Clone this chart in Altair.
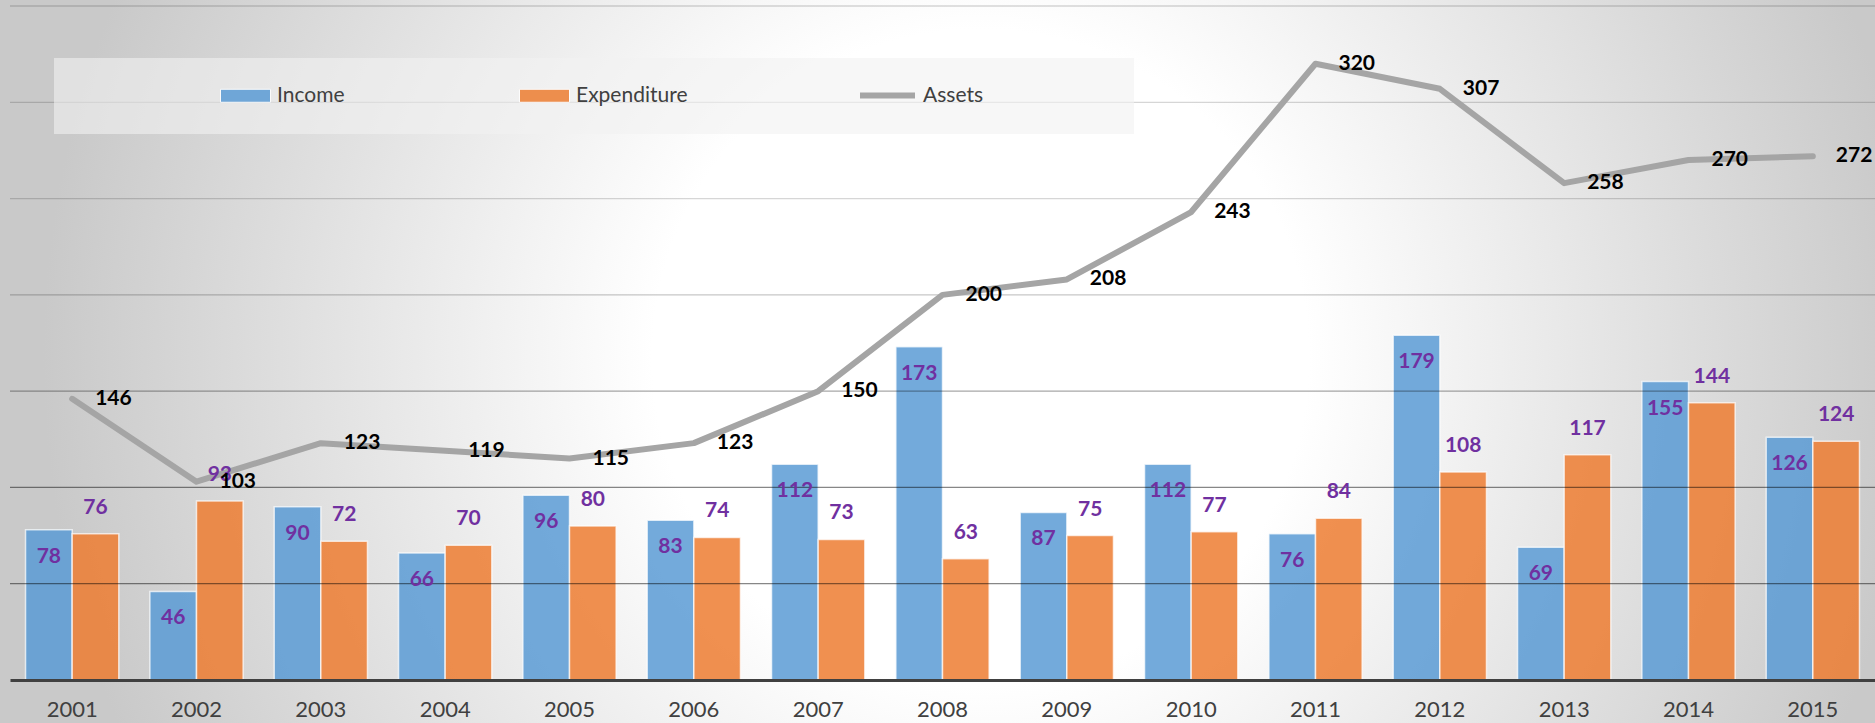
import altair as alt
import pandas as pd

# ---- data ----
years = ["2001", "2002", "2003", "2004", "2005", "2006", "2007", "2008",
         "2009", "2010", "2011", "2012", "2013", "2014", "2015"]
income = [78, 46, 90, 66, 96, 83, 112, 173, 87, 112, 76, 179, 69, 155, 126]
expenditure = [76, 93, 72, 70, 80, 74, 73, 63, 75, 77, 84, 108, 117, 144, 124]
assets = [146, 103, 123, 119, 115, 123, 150, 200, 208, 243, 320, 307, 258, 270, 272]
gridlines = [50, 100, 150, 200, 250, 300, 350]
bar_series = ["Income", "Expenditure"]
bar_colors = ["#5b9bd5", "#ed7d31"]

bars_df = pd.DataFrame({
    "year": years * 2,
    "series": ["Income"] * len(years) + ["Expenditure"] * len(years),
    "value": income + expenditure,
})
line_df = pd.DataFrame({"year": years, "assets": assets, "lname": ["Assets"] * len(years)})
grid_df = pd.DataFrame({"v": gridlines})
one = pd.DataFrame({"k": [0]})

FONT = "Lato"
W, H = 1865, 674

x = alt.X(
    "year:N", sort=years, title=None,
    scale=alt.Scale(paddingInner=0.25, paddingOuter=0.125),
    axis=alt.Axis(labelAngle=0, labelFont=FONT, labelFontSize=22, labelColor="#404040",
                  labelPadding=19, ticks=False, tickSize=0, domainColor="#404040",
                  domainWidth=3, grid=False, zindex=1),
)
yscale = alt.Scale(domain=[0, 350], nice=False, zero=True)
xoff = alt.XOffset("series:N", scale=alt.Scale(domain=bar_series, paddingInner=0))

bg = alt.Chart(one).mark_rect(
    fill=alt.RadialGradient(
        gradient="radial",
        stops=[alt.GradientStop(color="#ffffff", offset=0),
               alt.GradientStop(color="#ffffff", offset=0.35),
               alt.GradientStop(color="#c9c9c9", offset=1)],
        x1=0.523, y1=0.5, r1=0, x2=0.523, y2=0.5, r2=0.5,
    )
).encode(x=alt.value(-10), x2=alt.value(1865), y=alt.value(-586), y2=alt.value(1289))

bars = alt.Chart(bars_df).mark_bar(
    fillOpacity=0.85, stroke="white", strokeOpacity=0.7, strokeWidth=1.5
).encode(
    x=x, xOffset=xoff,
    y=alt.Y("value:Q", scale=yscale, axis=None),
    color=alt.Color("series:N", scale=alt.Scale(domain=bar_series, range=bar_colors),
                    legend=alt.Legend(orient="none", legendX=210, legendY=64,
                                      direction="horizontal", title=None,
                                      symbolType="M-1,-0.26H1V0.26H-1Z", symbolSize=2500,
                                      symbolStrokeColor="#ffffff", symbolStrokeWidth=1,
                                      symbolOpacity=0.85,
                                      labelFont=FONT, labelFontSize=21, labelColor="#404040",
                                      labelOffset=6, columnPadding=172, padding=0)),
)

grid = alt.Chart(grid_df).mark_rule(color="black", strokeWidth=1.3).encode(
    y=alt.Y("v:Q", scale=yscale, axis=None),
    opacity=alt.Opacity("v:Q", scale=alt.Scale(domain=[100, 150, 200, 250],
                                               range=[0.47, 0.35, 0.22, 0.16], clamp=True),
                        legend=None),
)

box = alt.Chart(one).mark_rect(color="#f2f2f2", opacity=0.6).encode(
    x=alt.value(44), x2=alt.value(1124), y=alt.value(52), y2=alt.value(128)
)

line = alt.Chart(line_df).mark_line(strokeWidth=6, strokeCap="round", strokeJoin="round").encode(
    x=x,
    y=alt.Y("assets:Q", scale=yscale, axis=None),
    stroke=alt.Stroke("lname:N", scale=alt.Scale(domain=["Assets"], range=["#a5a5a5"]),
                      legend=alt.Legend(orient="none", legendX=847, legendY=59, title=None,
                                        symbolType="stroke", symbolSize=3025,
                                        symbolStrokeWidth=6,
                                        labelFont=FONT, labelFontSize=21, labelColor="#404040",
                                        labelOffset=5, padding=0)),
)

label_style = dict(font=FONT, fontSize=21, fontWeight="bold", baseline="middle")

inc_labels = alt.Chart(bars_df).transform_filter("datum.series == 'Income'").mark_text(
    dy=27, color="#7030A0", **label_style
).encode(x=x, xOffset=xoff, y=alt.Y("value:Q", scale=yscale, axis=None), text="value:Q")

exp_labels = alt.Chart(bars_df).transform_filter("datum.series == 'Expenditure'").mark_text(
    dy=-26, color="#7030A0", **label_style
).encode(x=x, xOffset=xoff, y=alt.Y("value:Q", scale=yscale, axis=None), text="value:Q")

line_labels = alt.Chart(line_df).mark_text(
    align="left", dx=23, color="#000000", **label_style
).encode(x=x, y=alt.Y("assets:Q", scale=yscale, axis=None), text="assets:Q")

chart = alt.layer(
    bg, bars, grid, box, line, inc_labels, exp_labels, line_labels
).properties(
    width=W, height=H,
    padding={"left": 10, "top": 6, "right": 0, "bottom": 43},
    autosize=alt.AutoSizeParams(type="none"),
    background="#ffffff",
).configure_view(stroke=None)

chart.save("out.html", embed_options={"renderer": "svg", "actions": False})
